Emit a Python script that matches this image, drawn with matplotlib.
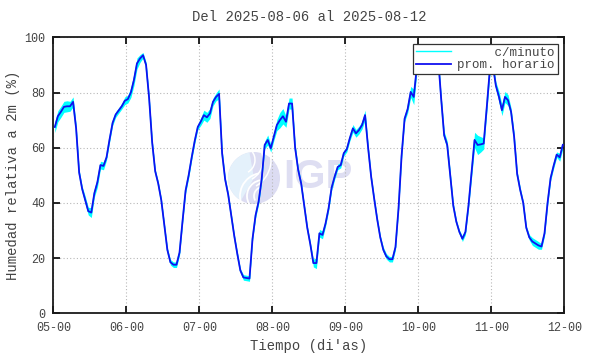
import matplotlib
matplotlib.use('Agg')
import matplotlib.pyplot as plt
from matplotlib.patches import Circle, Wedge, Arc
import numpy as np

dias = ['05-00', '06-00', '07-00', '08-00', '09-00', '10-00', '11-00', '12-00']

# promedio horario (%), 24 valores por dia, centrados en la media hora
hum_d05 = [67.5, 71.4, 73, 74.8, 75, 75, 76.6, 67, 51, 45, 41, 37,
           36.5, 43.5, 47.5, 53.7, 53.4, 56.5, 63, 69, 72, 73.5, 75, 77]
hum_d06 = [77.6, 80, 84.5, 90.5, 92.3, 93.5, 90, 78, 62, 51.5, 47, 41,
           32, 23, 18.5, 17.6, 17.6, 22, 33.5, 44.5, 50, 56.5, 62.5, 67.5]
hum_d07 = [69.5, 71.8, 71, 72.4, 76.6, 78.4, 79.5, 58, 48.5, 43, 35.5, 28,
           21.5, 15.5, 13, 12.8, 12.6, 27, 35.5, 40.5, 48.5, 61, 62.8, 59.8]
hum_d08 = [64, 68.2, 70, 71.4, 69.4, 76, 76, 60, 52, 47, 39, 31,
           25, 18.2, 18.2, 29, 28.4, 32.5, 38, 45.5, 49.5, 53, 53.7, 58]
hum_d09 = [59.5, 63.5, 67, 65.2, 66.4, 68.2, 71.8, 60, 49.5, 41.5, 34, 27.5,
           23, 20.6, 19.6, 19.6, 24, 38, 57, 70.5, 74, 80.2, 78.4, 89]
hum_d10 = [95, 93.5, 90.5, 91, 92.9, 94, 92.9, 78, 64.5, 61, 50, 39,
           33.2, 29.5, 27, 29.5, 39, 51, 62.8, 61, 61.2, 61.5, 74.5, 88]
hum_d11 = [90, 82.5, 78.5, 73.6, 78.4, 77.2, 73, 64, 50.5, 44.7, 40, 31,
           27.5, 26, 25.3, 24.6, 24.2, 29, 40, 49, 53.5, 57.5, 56.5, 61]

# dispersion (+/-) de los datos por minuto dentro de cada hora
disp_d05 = [2, 2, 2, 2, 2, 1.8, 1.8, 1.4, 1, 1, 1.4, 1.4,
            1.8, 1.4, 1.8, 1.4, 1.4, 1, 1, 1, 1, 1, 1, 1.4]
disp_d06 = [1.4, 1.8, 2, 2, 1.4, 1, 1, 1, 1, 0.7, 0.7, 0.7,
            0.7, 0.7, 1, 1, 1, 1, 1, 1, 1, 1, 1, 1]
disp_d07 = [1.4, 1.8, 1.8, 1.8, 1.4, 1.4, 1.8, 1.4, 0.7, 0.7, 0.7, 0.7,
            0.7, 0.7, 1, 1, 1, 0.7, 1, 1, 1, 1.4, 1.8, 1.4]
disp_d08 = [1.4, 2, 2.8, 2.8, 2, 2, 2, 1.4, 1, 0.7, 0.7, 0.7,
            0.7, 1.4, 2, 1.4, 1.4, 1, 1, 1, 1, 1, 1, 1]
disp_d09 = [1, 1, 1.4, 1.4, 1.4, 1.4, 1.8, 1, 0.7, 0.7, 0.7, 0.7,
            1, 1, 1, 1, 1, 0.7, 0.7, 1, 1.4, 2, 2.8, 2]
disp_d10 = [1.4, 1, 1, 1, 1, 1, 1, 1, 1.4, 1.4, 1.4, 1,
            0.7, 0.7, 1, 1, 1, 2, 2.8, 3.5, 2.8, 2, 2, 1.8]
disp_d11 = [1.4, 1.4, 2, 2, 2, 2, 1.4, 1.4, 1, 1, 0.7, 0.7,
            1, 1.4, 1.4, 1.4, 1, 1, 1, 1, 1, 1, 1.4, 1.4]

hum = np.array(hum_d05 + hum_d06 + hum_d07 + hum_d08 + hum_d09 + hum_d10 + hum_d11)
disp = np.array(disp_d05 + disp_d06 + disp_d07 + disp_d08 + disp_d09 + disp_d10 + disp_d11)
t = (np.arange(len(hum)) + 0.5) / 24.0

FONT = 'Liberation Mono'
GRIS = '#444444'

fig = plt.figure(figsize=(5.9, 3.54), dpi=100)
fig.patch.set_facecolor('white')

# marca de agua IGP (detras de los datos)
lg = fig.add_axes([225 / 590, 1 - 208 / 354, 130 / 590, 60 / 354], zorder=0)
lg.set_xlim(225, 355)
lg.set_ylim(208, 148)
lg.axis('off')
lg.add_patch(Circle((254, 178), 26, color='#dcdcf2', lw=0))
lg.add_patch(Wedge((254, 178), 26, 120, 260, color='#e4f1fb', lw=0))
for r in (9, 16, 23):
    lg.add_patch(Arc((263, 196), 2 * r, 2 * r, theta1=150, theta2=260, color='white', lw=1.3))
for r in (14, 22, 30):
    lg.add_patch(Arc((241, 160), 2 * r, 2 * r, theta1=-40, theta2=60, color='white', lw=1.1))
lg.text(283, 177, 'IGP', ha='left', va='center', fontsize=29, fontweight='bold',
        family='Liberation Sans', color='#dedef2')

ax = fig.add_axes([53.3 / 590, 1 - 313.3 / 354, 511 / 590, 276 / 354], zorder=1)
ax.set_facecolor('none')

ax.fill_between(t, hum - disp, hum + disp, color='#00ffff', lw=0, zorder=2)
ax.plot(t, hum, color='#00ffff', lw=1.0, label='     c/minuto', zorder=2)
ax.plot(t, hum, color='#1010f0', lw=1.3, label='prom. horario', zorder=3)

ax.set_xlim(0, 7)
ax.set_ylim(0, 100)
ax.set_xticks(range(len(dias)))
ax.set_xticklabels(dias)
ax.set_yticks(range(0, 101, 20))

ax.grid(True, color='#b8b8b8', lw=0.8, linestyle=(0, (1, 2)))
ax.tick_params(direction='in', length=5, width=1.2, top=True, right=True,
               labelsize=8.5, labelcolor=GRIS, pad=6)
for lab in ax.get_xticklabels() + ax.get_yticklabels():
    lab.set_family(FONT)
for s in ax.spines.values():
    s.set_linewidth(1.3)
    s.set_color('#1a1a1a')

ax.set_title('Del 2025-08-06 al 2025-08-12', family=FONT, fontsize=10, color=GRIS, pad=12)
ax.set_xlabel("Tiempo (di'as)", family=FONT, fontsize=10, color=GRIS, labelpad=4)
ax.set_ylabel('Humedad relativa a 2m (%)', family=FONT, fontsize=10, color=GRIS, labelpad=3)

leg = ax.legend(loc='upper right', prop={'family': FONT, 'size': 9},
                frameon=True, fancybox=False, framealpha=1, edgecolor='#333333',
                borderaxespad=0.5, borderpad=0.25, labelspacing=0.05,
                handlelength=2.8, handletextpad=0.5, labelcolor=GRIS)
leg.get_frame().set_linewidth(0.9)

fig.savefig('out.png', dpi=100, facecolor='white')
